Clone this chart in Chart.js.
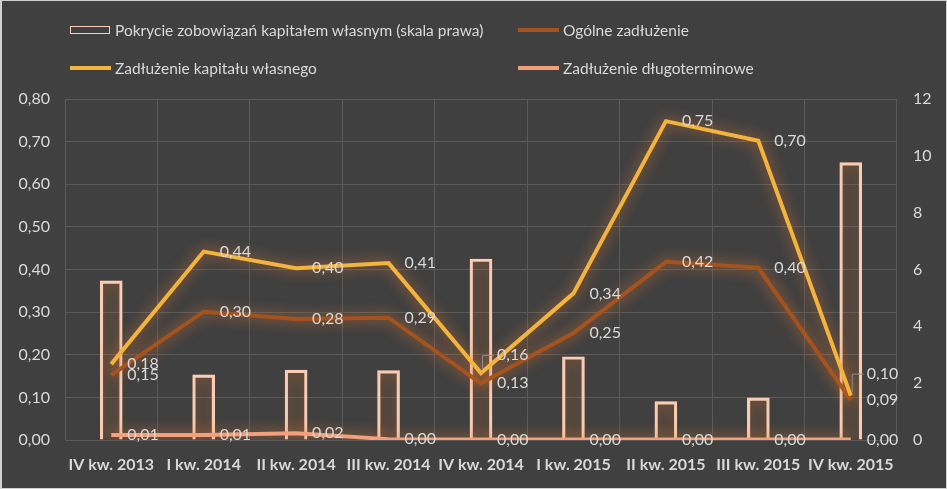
<!DOCTYPE html>
<html>
<head>
<meta charset="utf-8">
<script src="https://cdn.jsdelivr.net/npm/chart.js@4/dist/chart.umd.min.js"></script>
<style>
  html, body { margin: 0; padding: 0; background: #404040; }
  #wrap { position: relative; width: 947px; height: 489px; background: #404040; overflow: hidden; }
  #frame { position: absolute; left: 0; top: 0; height: 487px; border: 1px solid #d0d0d0; border-left-width: 2px; width: 944px; pointer-events: none; }
  canvas { position: absolute; left: 0; top: 0; }
  .leg { position: absolute; font-family: Lato, "Open Sans", sans-serif; font-size: 15.5px; color: #d9d9d9; white-space: nowrap; line-height: 20px; }
  .sw { position: absolute; }
</style>
</head>
<body>
<div id="wrap">
  <canvas id="c" width="947" height="489"></canvas>
  <div id="legend"></div>
  <div id="frame"></div>
</div>
<script>
const categories = ["IV kw. 2013", "I kw. 2014", "II kw. 2014", "III kw. 2014", "IV kw. 2014", "I kw. 2015", "II kw. 2015", "III kw. 2015", "IV kw. 2015"];
const pokrycie = [5.60, 2.29, 2.46, 2.44, 6.37, 2.93, 1.35, 1.48, 9.76];
const ogolne = [0.152, 0.301, 0.284, 0.287, 0.133, 0.251, 0.418, 0.404, 0.094];
const kapitalu = [0.178, 0.442, 0.403, 0.415, 0.157, 0.344, 0.748, 0.702, 0.104];
const dlugo = [0.012, 0.012, 0.016, 0.002, 0.001, 0.001, 0.001, 0.001, 0.001];
const leftTicks = { min: 0, max: 0.8, step: 0.1 };
const rightTicks = { min: 0, max: 12, step: 2 };

const seriesNames = ["Pokrycie zobowiązań kapitałem własnym (skala prawa)", "Ogólne zadłużenie", "Zadłużenie kapitału własnego", "Zadłużenie długoterminowe"];
const colors = { bar: "#f9cdb3", brown: "#a4521e", yellow: "#f2b43c", salmon: "#f2a07b" };

// HTML legend
const legend = document.getElementById('legend');
const legItems = [
  { name: seriesNames[0], kind: 'box', color: colors.bar, x: 70, y: 30 },
  { name: seriesNames[1], kind: 'line', color: colors.brown, x: 518, y: 30 },
  { name: seriesNames[2], kind: 'line', color: colors.yellow, x: 70, y: 68 },
  { name: seriesNames[3], kind: 'line', color: colors.salmon, x: 518, y: 68 }
];
legItems.forEach(it => {
  const sw = document.createElement('div');
  sw.className = 'sw';
  if (it.kind === 'box') {
    sw.style.cssText = `left:${it.x}px;top:${it.y - 4}px;width:38px;height:6px;border:1.5px solid ${it.color};background:#404040;`;
  } else {
    sw.style.cssText = `left:${it.x}px;top:${it.y - 2}px;width:41px;height:4px;background:${it.color};`;
  }
  legend.appendChild(sw);
  const t = document.createElement('div');
  t.className = 'leg';
  t.textContent = it.name;
  t.style.left = (it.x + 45) + 'px';
  t.style.top = (it.y - 10) + 'px';
  legend.appendChild(t);
});

const gridColor = '#5a5a5a';
const textColor = '#d9d9d9';
const fmt = v => v.toFixed(2).replace('.', ',');

const glowPlugin = {
  id: 'glow',
  beforeDatasetDraw(chart, args) {
    const ctx = chart.ctx;
    ctx.save();
    ctx.shadowColor = 'rgba(237,125,49,0.8)';
    ctx.shadowBlur = 14;
  },
  afterDatasetDraw(chart) {
    chart.ctx.restore();
  }
};

const labelPlugin = {
  id: 'pointLabels',
  afterDatasetsDraw(chart, args, opts) {
    const ctx = chart.ctx;
    ctx.save();
    ctx.font = '16px Lato, "Open Sans", sans-serif';
    ctx.fillStyle = textColor;
    ctx.textAlign = 'left';
    ctx.textBaseline = 'middle';
    chart.data.datasets.forEach((ds, di) => {
      if (ds.type !== 'line') return;
      const meta = chart.getDatasetMeta(di);
      meta.data.forEach((pt, i) => {
        const adj = (opts.shifts || []).find(s => s.ds === di && s.i === i);
        const dy = adj ? adj.dy : 0;
        const lx = pt.x + 16, ly = pt.y + dy;
        ctx.fillText(fmt(ds.data[i]), lx, ly);
        if (adj) {
          ctx.save();
          ctx.strokeStyle = '#8c8c8c';
          ctx.lineWidth = 1;
          ctx.shadowBlur = 0;
          ctx.beginPath();
          ctx.moveTo(lx - 3, ly + 0.5);
          ctx.lineTo(pt.x + 1.5, ly + 0.5);
          ctx.lineTo(pt.x + 1.5, pt.y - 3);
          ctx.stroke();
          ctx.restore();
        }
      });
    });
    ctx.restore();
  }
};

new Chart(document.getElementById('c'), {
  data: {
    labels: categories,
    datasets: [
      { type: 'bar', label: seriesNames[0], data: pokrycie, yAxisID: 'y1', backgroundColor: 'rgba(0,0,0,0)', borderColor: colors.bar, borderWidth: 2.5, barThickness: 22, order: 5 },
      { type: 'line', label: seriesNames[1], data: ogolne, yAxisID: 'y', borderColor: colors.brown, borderWidth: 4, pointRadius: 0, tension: 0, order: 2 },
      { type: 'line', label: seriesNames[2], data: kapitalu, yAxisID: 'y', borderColor: colors.yellow, borderWidth: 4, pointRadius: 0, tension: 0, order: 1 },
      { type: 'line', label: seriesNames[3], data: dlugo, yAxisID: 'y', borderColor: colors.salmon, borderWidth: 4, pointRadius: 0, tension: 0, order: 0 }
    ]
  },
  options: {
    responsive: false,
    animation: false,
    events: [],
    layout: { padding: { top: 99, left: 0, right: 0, bottom: 0 } },
    plugins: {
      legend: { display: false },
      tooltip: { enabled: false },
      pointLabels: { shifts: [ { ds: 2, i: 4, dy: -18 }, { ds: 2, i: 8, dy: -22 } ] }
    },
    scales: {
      x: {
        offset: true,
        grid: { offset: true, color: gridColor, drawTicks: false },
        border: { display: false },
        ticks: { color: textColor, font: { family: 'Lato, "Open Sans", sans-serif', size: 16, weight: 'bold' }, padding: 15, autoSkip: false, maxRotation: 0, minRotation: 0 },
        afterFit(s) { s.height = 49; }
      },
      y: {
        position: 'left',
        min: leftTicks.min, max: leftTicks.max,
        grid: { color: gridColor, drawTicks: false },
        border: { display: false },
        ticks: { stepSize: leftTicks.step, color: textColor, font: { family: 'Lato, "Open Sans", sans-serif', size: 16 }, padding: 15, callback: v => fmt(v) },
        afterFit(s) { s.width = 65; }
      },
      y1: {
        position: 'right',
        min: rightTicks.min, max: rightTicks.max,
        grid: { drawOnChartArea: false, drawTicks: false },
        border: { display: false },
        ticks: { stepSize: rightTicks.step, color: textColor, font: { family: 'Lato, "Open Sans", sans-serif', size: 16 }, padding: 16 },
        afterFit(s) { s.width = 50; }
      }
    }
  },
  plugins: [glowPlugin, labelPlugin]
});
</script>
</body>
</html>
